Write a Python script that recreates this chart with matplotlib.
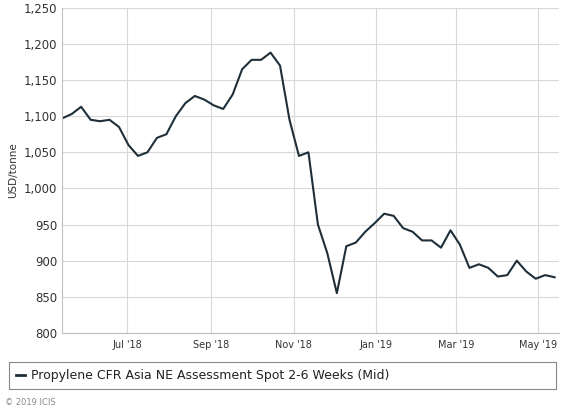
import matplotlib
matplotlib.use("Agg")
import matplotlib.pyplot as plt
import matplotlib.dates as mdates
import numpy as np
import datetime as dt

start = dt.date(2018, 5, 14)
dates = [start + dt.timedelta(weeks=i) for i in range(53)]
values = [1097, 1103, 1113, 1095, 1093, 1095, 1085, 1060, 1045, 1050,
          1070, 1075, 1100, 1118, 1128, 1123, 1115, 1110, 1130, 1165,
          1178, 1178, 1188, 1170, 1095, 1045, 1050, 950, 910, 855,
          920, 925, 940, 952, 965, 962, 945, 940, 928, 928,
          918, 942, 922, 890, 895, 890, 878, 880, 900, 885,
          875, 880, 877]
series_name = "Propylene CFR Asia NE Assessment Spot 2-6 Weeks (Mid)"

fig = plt.figure(figsize=(5.76, 4.12), dpi=100)
ax = fig.add_axes([0.108, 0.192, 0.862, 0.789])
ax.plot(dates, values, color="#1f2f3a", lw=1.5)
ax.set_xlim(dt.date(2018, 5, 14), dt.date(2019, 5, 16))
ax.set_ylim(800, 1250)
ax.set_yticks(np.arange(800, 1251, 50))
ax.yaxis.set_major_formatter(matplotlib.ticker.FuncFormatter(lambda v, p: f"{int(v):,}"))
ax.set_xticks([dt.date(2018, 7, 1), dt.date(2018, 9, 1), dt.date(2018, 11, 1),
               dt.date(2019, 1, 1), dt.date(2019, 3, 1), dt.date(2019, 5, 1)])
ax.xaxis.set_major_formatter(mdates.DateFormatter("%b '%y"))
ax.grid(True, color="#d8d8d8", lw=0.8)
for s in ["top", "right"]:
    ax.spines[s].set_visible(False)
ax.spines["left"].set_color("#c0c0c0")
ax.spines["bottom"].set_color("#c0c0c0")
ax.tick_params(axis="x", labelsize=7, colors="#333333", length=0, pad=5)
ax.tick_params(axis="y", labelsize=8.5, colors="#333333", length=0)
ax.set_ylabel("USD/tonne", fontsize=7.5, color="#333333")

lax = fig.add_axes([0.016, 0.056, 0.949, 0.066])
lax.set_xticks([]); lax.set_yticks([])
for s in lax.spines.values():
    s.set_color("#888888")
lax.plot([0.012, 0.028], [0.5, 0.5], color="#1f2f3a", lw=2, transform=lax.transAxes)
lax.text(0.04, 0.5, series_name, va="center", fontsize=9, color="#222222", transform=lax.transAxes)
fig.text(0.008, 0.022, "© 2019 ICIS", fontsize=6, color="#888888", va="center")
fig.savefig("out.png", dpi=100)
